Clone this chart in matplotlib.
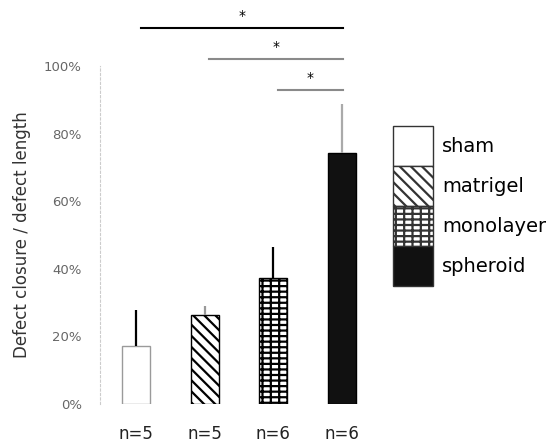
import matplotlib.pyplot as plt
from matplotlib.patches import Patch
from matplotlib.ticker import PercentFormatter

plt.rcParams['hatch.linewidth'] = 1.6

# defect closure per group (mean and upper SD)
groups = ['sham', 'matrigel', 'monolayer', 'spheroid']
n_labels = ['n=5', 'n=5', 'n=6', 'n=6']
closure = [0.172, 0.263, 0.372, 0.742]
closure_sd = [0.106, 0.027, 0.093, 0.146]

# significance brackets: (from group, to group, height)
sig_pairs = [(0, 3, 1.112), (1, 3, 1.021), (2, 3, 0.929)]

faces = ['white', 'white', 'white', '#111111']
edges = ['#9a9a9a', 'black', 'black', 'black']
hatches = [None, '\\' * 3, '++-', None]
err_colors = ['black', '#999999', 'black', '#aaaaaa']

fig = plt.figure(figsize=(5.53, 4.45), dpi=100)
ax = fig.add_axes([0.1808, 0.0921, 0.4987, 0.7596])

x = range(len(groups))
bars = ax.bar(x, closure, width=0.41, color=faces, edgecolor=edges, linewidth=1.0)
for b, h in zip(bars, hatches):
    if h:
        b.set_hatch(h)

for i in x:
    ax.errorbar(i, closure[i], yerr=[[0], [closure_sd[i]]], fmt='none',
                ecolor=err_colors[i], elinewidth=1.6, capsize=0)

# brackets above the bars
line_cols = ['black', '#8a8a8a', '#8a8a8a']
for (a, b, y), c in zip(sig_pairs, line_cols):
    ax.plot([a + 0.07, b + 0.02], [y, y], color=c, lw=1.5, clip_on=False)
    ax.text((a + b) / 2 + 0.04, y + 0.035, '*', ha='center', va='center',
            fontsize=10, color='black', clip_on=False)

ax.set_xlim(-0.53, 3.5)
ax.set_ylim(0, 1.0)
ax.set_yticks([0, 0.2, 0.4, 0.6, 0.8, 1.0])
ax.yaxis.set_major_formatter(PercentFormatter(1.0, decimals=0))
ax.set_xticks(list(x))
ax.set_xticklabels(n_labels, fontsize=12, color='#222222')
ax.tick_params(axis='x', length=0, pad=15)
ax.tick_params(axis='y', length=0, pad=13, labelsize=9.5, labelcolor='#666666')
ax.set_ylabel('Defect closure / defect length', fontsize=12, color='#333333')
ax.yaxis.set_label_coords(-0.25, 0.5)

for s in ['top', 'right', 'bottom']:
    ax.spines[s].set_visible(False)
ax.spines['left'].set_color('#cccccc')
ax.spines['left'].set_linestyle((0, (2, 2)))
ax.spines['left'].set_linewidth(0.8)

# stacked legend boxes, no gaps between rows
handles = [Patch(facecolor=faces[i], edgecolor='#333333', hatch=hatches[i], linewidth=1.0)
           for i in range(len(groups))]
fig.legend(handles, groups, loc='upper left', bbox_to_anchor=(0.711, 0.717),
           frameon=False, prop={'size': 14}, handlelength=2.06, handleheight=2.79,
           labelspacing=0.0, handletextpad=0.45, borderpad=0, borderaxespad=0)

fig.savefig('out.png', dpi=100)
